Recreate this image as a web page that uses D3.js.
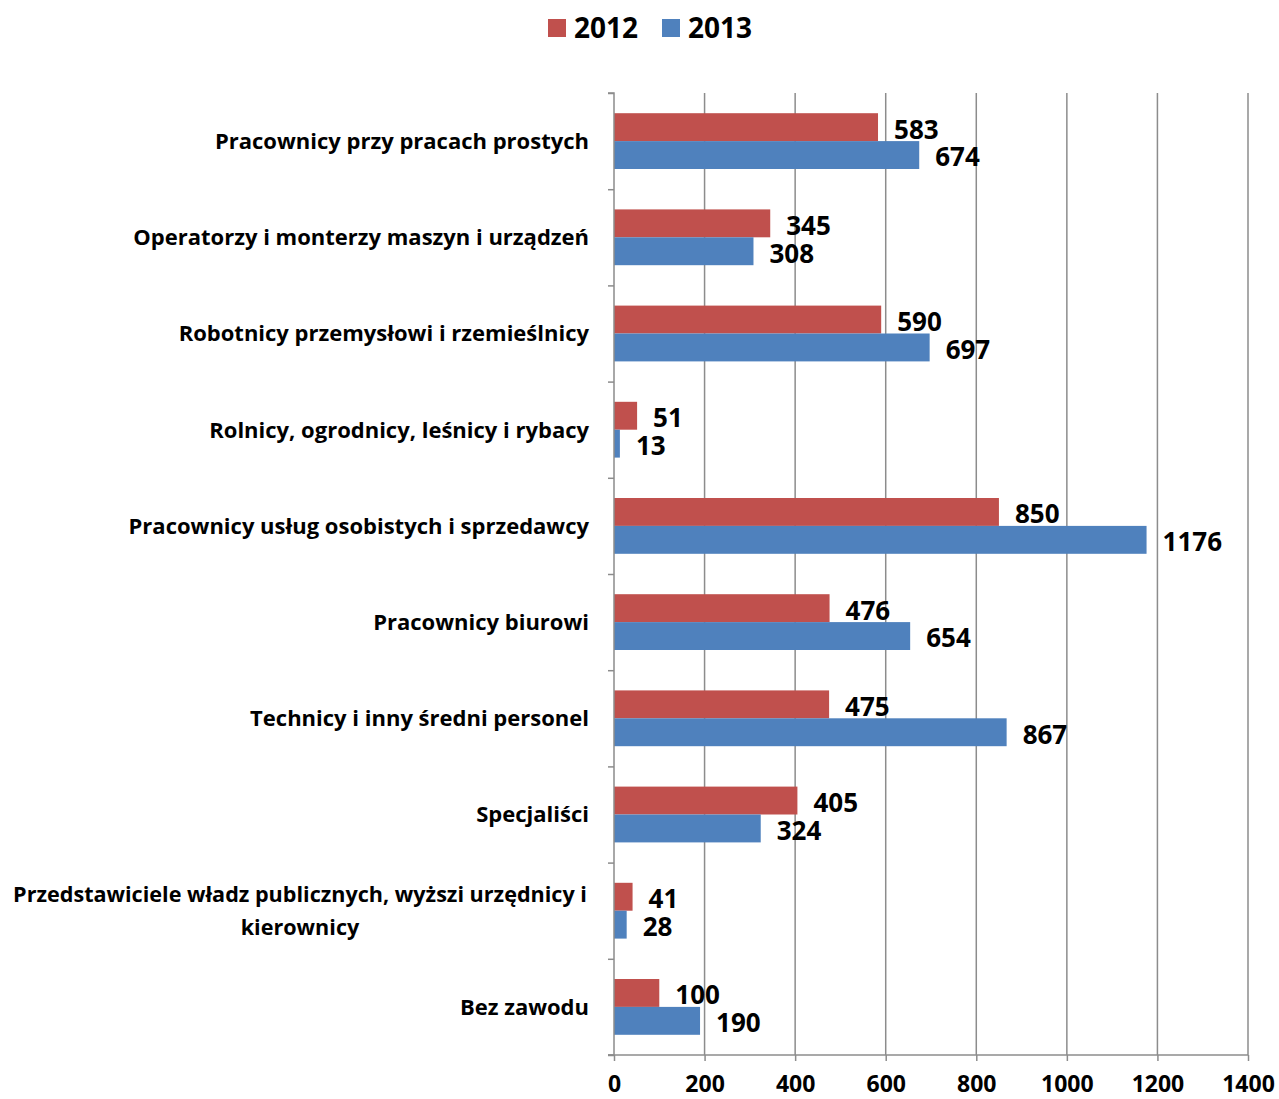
<!DOCTYPE html>
<html>
<head>
<meta charset="utf-8">
<title>Zawody 2012-2013</title>
<script src="https://cdn.jsdelivr.net/npm/d3@7"></script>
<style>
  html, body { margin: 0; padding: 0; background: #fff; }
  text { font-family: "Open Sans", "Noto Sans", sans-serif; font-weight: bold; fill: #000; }
  .grid line { stroke: #8c8c8c; stroke-width: 1.5; }
</style>
</head>
<body>
<svg id="chart" width="1279" height="1099"></svg>
<script>
// data
var categories = [
  "Pracownicy przy pracach prostych",
  "Operatorzy i monterzy maszyn i urządzeń",
  "Robotnicy przemysłowi i rzemieślnicy",
  "Rolnicy, ogrodnicy, leśnicy i rybacy",
  "Pracownicy usług osobistych i sprzedawcy",
  "Pracownicy biurowi",
  "Technicy i inny średni personel",
  "Specjaliści",
  "Przedstawiciele władz publicznych, wyższi urzędnicy i kierownicy",
  "Bez zawodu"
];
var values2012 = [583, 345, 590, 51, 850, 476, 475, 405, 41, 100];
var values2013 = [674, 308, 697, 13, 1176, 654, 867, 324, 28, 190];
var seriesNames = ["2012", "2013"];
var xTicks = [0, 200, 400, 600, 800, 1000, 1200, 1400];

var colors = ["#C0504D", "#4F81BD"];
var svg = d3.select("#chart");

var plotLeft = 614, plotRight = 1248, plotTop = 93, plotBottom = 1055;

var x = d3.scaleLinear().domain([0, 1400]).range([plotLeft, plotRight]);
var y = d3.scaleBand().domain(categories).range([plotTop, plotBottom]).paddingInner(0.42).paddingOuter(0.21);
var ySub = d3.scaleBand().domain(seriesNames).range([0, y.bandwidth()]);

// vertical gridlines
svg.append("g").attr("class", "grid")
  .selectAll("line").data(xTicks.slice(1)).enter().append("line")
  .attr("x1", function(d){ return x(d); }).attr("x2", function(d){ return x(d); })
  .attr("y1", plotTop).attr("y2", plotBottom);

// bars
var series = [values2012, values2013];
series.forEach(function(vals, si) {
  var g = svg.append("g");
  g.selectAll("rect").data(vals).enter().append("rect")
    .attr("x", x(0))
    .attr("y", function(d, i){ return y(categories[i]) + ySub(seriesNames[si]); })
    .attr("width", function(d){ return x(d) - x(0); })
    .attr("height", ySub.bandwidth())
    .attr("fill", colors[si]);
  g.selectAll("text").data(vals).enter().append("text")
    .attr("x", function(d){ return x(d) + 16; })
    .attr("y", function(d, i){ return y(categories[i]) + ySub(seriesNames[si]) + ySub.bandwidth() / 2 + 2; })
    .attr("dy", "0.36em")
    .style("font-size", "26px")
    .text(function(d){ return d; });
});

// left axis
var yAxis = d3.axisLeft(d3.scaleLinear().domain([0, categories.length]).range([plotTop, plotBottom]))
  .tickValues(d3.range(categories.length + 1)).tickSize(6).tickFormat("");
var ya = svg.append("g").attr("transform", "translate(" + plotLeft + ",0)").call(yAxis);
ya.selectAll("path, line").attr("stroke", "#8c8c8c").attr("stroke-width", 1.5);
ya.select(".domain").attr("d", "M-6," + plotTop + "H0V" + plotBottom + "H-6");

// bottom axis
var xAxis = d3.axisBottom(x).tickValues(xTicks).tickSize(6).tickSizeOuter(0).tickPadding(15).tickFormat(d3.format("d"));
var xa = svg.append("g").attr("transform", "translate(0," + plotBottom + ")").call(xAxis);
xa.selectAll("path, line").attr("stroke", "#8c8c8c").attr("stroke-width", 1.5);
xa.select(".domain").attr("d", "M" + (plotLeft - 6) + ",0H" + plotRight);
xa.selectAll("text").style("font-size", "23px").style("font-family", "'Open Sans', sans-serif").attr("fill", "#000");

// category labels
function wrapLabel(t) {
  if (t.length > 50) {
    var idx = t.lastIndexOf(" ", 53);
    return [t.slice(0, idx), t.slice(idx + 1)];
  }
  return [t];
}
categories.forEach(function(c) {
  var lines = wrapLabel(c);
  var cy = y(c) + y.bandwidth() / 2;
  var txt = svg.append("text")
    .attr("text-anchor", lines.length > 1 ? "middle" : "end")
    .style("font-size", lines.length > 1 ? "21.6px" : "22px");
  lines.forEach(function(l, li) {
    txt.append("tspan")
      .attr("x", lines.length > 1 ? 300 : 589)
      .attr("y", cy + (li - (lines.length - 1) / 2) * 33)
      .attr("dy", "0.36em")
      .text(l);
  });
});

// legend
var legend = svg.append("g");
seriesNames.forEach(function(s, i) {
  var lx = [548, 662][i];
  legend.append("rect").attr("x", lx).attr("y", 19).attr("width", 18).attr("height", 18).attr("fill", colors[i]);
  legend.append("text").attr("x", lx + 26).attr("y", 28).attr("dy", "0.36em")
    .style("font-size", "28px").text(s);
});
</script>
</body>
</html>
